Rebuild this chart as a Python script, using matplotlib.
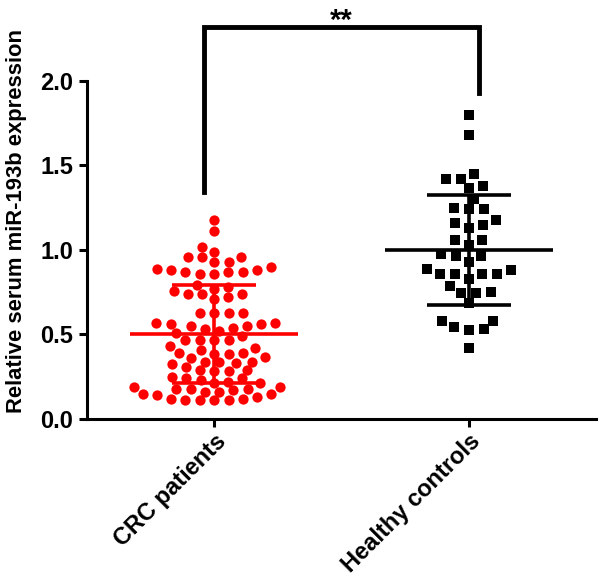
import numpy as np
import matplotlib
matplotlib.use('Agg')
import matplotlib.pyplot as plt

plt.rcParams['font.family'] = ['Liberation Sans', 'DejaVu Sans']
plt.rcParams['font.weight'] = 'bold'

groups = ['CRC patients', 'Healthy controls']

# values, row by row (top to bottom)
crc = [1.18, 1.11, 1.02,
       0.99, 0.96, 0.96, 0.96,
       0.93, 0.93,
       0.90, 0.89, 0.88, 0.87, 0.87, 0.86, 0.86, 0.87, 0.88,
       0.79, 0.78, 0.77, 0.76, 0.74, 0.74, 0.74, 0.72, 0.71,
       0.63, 0.63, 0.63, 0.63,
       0.57, 0.57, 0.56, 0.56, 0.55, 0.55, 0.54, 0.53, 0.52, 0.51,
       0.49, 0.47, 0.47, 0.47, 0.47,
       0.43, 0.42, 0.41,
       0.39, 0.39, 0.385, 0.385, 0.365, 0.36, 0.34, 0.34, 0.335, 0.33, 0.325, 0.31,
       0.29, 0.29, 0.285, 0.285, 0.25, 0.24, 0.24, 0.23, 0.22, 0.21, 0.21,
       0.19, 0.19, 0.18, 0.18, 0.175, 0.17, 0.16, 0.16, 0.15, 0.15, 0.14,
       0.13, 0.12, 0.12, 0.11, 0.11, 0.11, 0.11]

healthy = [1.80, 1.68, 1.45, 1.42, 1.42, 1.38, 1.365, 1.30, 1.24, 1.24,
           1.25, 1.18, 1.16, 1.15, 1.13, 1.06, 1.06, 1.03, 0.965, 0.976,
           0.965, 0.93, 0.88, 0.89, 0.86, 0.858, 0.83, 0.858, 0.858, 0.787,
           0.753, 0.744, 0.747, 0.688, 0.58, 0.58, 0.53, 0.527, 0.543, 0.418]

means = [0.50, 1.00]
sds = [0.29, 0.325]

colors = ['#ff0000', '#000000']
markers = ['o', 's']
msizes = [7.4, 7.6]

fig = plt.figure(figsize=(6, 5.85), dpi=100)
ax = fig.add_axes([0.145, 0.2838, 0.848, 0.5778])
ax.set_xlim(-0.5, 1.5)
ax.set_ylim(0, 2.0)

# pixels per data unit
PX = 0.848 * 600 / 2.0
PY = 0.5778 * 585 / 2.0


def swarm(vals, rx, ry):
    vals = np.asarray(vals, float)
    order = np.argsort(vals, kind='stable')
    placed = []
    xs = np.zeros(len(vals))
    for n, idx in enumerate(order):
        y = vals[idx] * PY
        cands = [0.0]
        for px, py in placed:
            dy = y - py
            if abs(dy) < ry:
                dx = rx * np.sqrt(1 - (dy / ry) ** 2) + 0.01
                cands += [px + dx, px - dx]
        sgn = 1 if n % 2 else -1
        cands.sort(key=lambda c: (round(abs(c), 2), sgn * c))
        for c in cands:
            if all(((c - px) / rx) ** 2 + ((y - py) / ry) ** 2 >= 0.999
                   for px, py in placed):
                break
        xs[idx] = c
        placed.append((c, y))
    return xs / PX


for i, vals in enumerate([crc, healthy]):
    off = swarm(vals, 14.5 if i == 0 else 15, 9 if i == 0 else 11)
    ax.plot(i + off, vals, linestyle='none', marker=markers[i], ms=msizes[i],
            color=colors[i], markeredgewidth=0, zorder=2)
    m, s = means[i], sds[i]
    ax.hlines(m, i - 0.33, i + 0.33, color=colors[i], lw=2.6, zorder=3)
    ax.vlines(i, m - s, m + s, color=colors[i], lw=2.6, zorder=3)
    ax.hlines([m - s, m + s], i - 0.165, i + 0.165, color=colors[i], lw=2.6, zorder=3)

# significance bracket
bx = [-0.04, -0.04, 1.04, 1.04]
by = [1.343, 2.32, 2.32, 1.93]
ax.plot(bx, by, color='black', lw=3.5, clip_on=False, solid_joinstyle='miter')
ax.text(0.5, 2.31, '**', ha='center', va='baseline', fontsize=21,
        fontweight='bold', clip_on=False)

for side in ['top', 'right']:
    ax.spines[side].set_visible(False)
for side in ['left', 'bottom']:
    ax.spines[side].set_linewidth(2.2)

ax.set_yticks([0, 0.5, 1.0, 1.5, 2.0])
ax.set_yticklabels(['0.0', '0.5', '1.0', '1.5', '2.0'], fontsize=17, fontweight='bold')
ax.set_xticks([0, 1])
ax.set_xticklabels(groups, fontsize=17, fontweight='bold', rotation=45,
                   ha='right', va='top', rotation_mode='anchor')
ax.tick_params(axis='both', direction='out', length=6, width=2.2, pad=4)
ax.tick_params(axis='x', pad=2)
ax.set_ylabel('Relative serum miR-193b expression', fontsize=15.8,
              fontweight='bold')
ax.yaxis.set_label_coords(-0.118, 0.586)

fig.savefig('out.png', dpi=100)
